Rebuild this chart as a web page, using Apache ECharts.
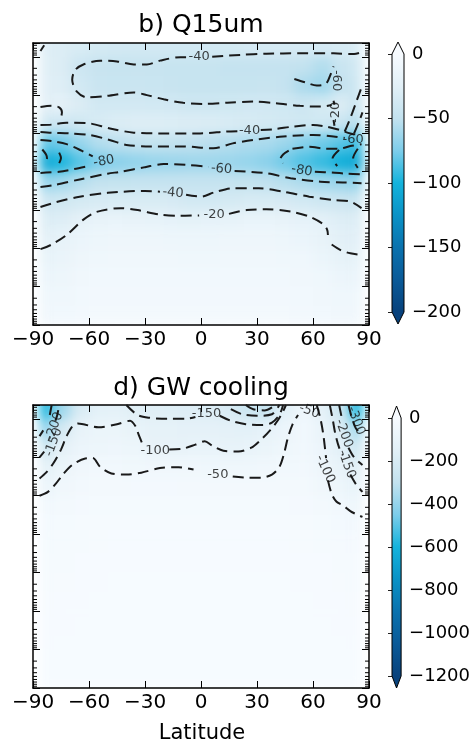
<!DOCTYPE html>
<html>
<head>
<meta charset="utf-8">
<script src="https://cdn.jsdelivr.net/npm/echarts@6/dist/echarts.min.js"></script>
<style>
  html, body { margin: 0; padding: 0; background: #fff; }
  #wrap { position: relative; width: 473px; height: 744px; }
  .clip { position: absolute; overflow: hidden; }
  .heat { position: absolute; left: -20px; top: -20px; filter: blur(6px); }
  #chart { position: absolute; left: 0; top: 0; width: 473px; height: 744px; }
</style>
</head>
<body>
<div id="wrap">
  <div class="clip" style="left:33px;top:43px;width:336px;height:282px">
    <div class="heat" id="heatTop" style="width:376px;height:322px"></div>
  </div>
  <div class="clip" style="left:33px;top:405px;width:336px;height:283px">
    <div class="heat" id="heatBottom" style="width:376px;height:323px"></div>
  </div>
  <div id="chart"></div>
</div>
<script>
// latitude centres of the model columns
const latitudes = [-85, -75, -65, -55, -45, -35, -25, -15, -5, 5, 15, 25, 35, 45, 55, 65, 75, 85];
// vertical levels, in decades of pressure above the lowest level (top row first)
const levels = [7.25, 6.75, 6.25, 5.75, 5.25, 4.75, 4.25, 3.75, 3.25, 2.75, 2.25, 1.75, 1.25, 0.75, 0.25];
const levelTop = 7.36;

// b) Q15um cooling rate, one row per level
const q15Values = [
  [-28, -30, -33, -36, -37, -38, -38, -38, -38, -37, -36, -35, -35, -35, -35, -35, -34, -32],
  [-27, -30, -42, -46, -47, -46, -46, -47, -47, -47, -48, -48, -48, -48, -50, -56, -45, -38],
  [-26, -28, -38, -44, -45, -44, -45, -46, -47, -47, -47, -47, -46, -48, -58, -62, -48, -40],
  [-24, -22, -30, -38, -38, -37, -38, -39, -41, -41, -40, -39, -39, -40, -42, -36, -30, -45],
  [-40, -42, -40, -34, -30, -28, -28, -29, -30, -31, -32, -34, -36, -38, -40, -40, -45, -55],
  [-82, -78, -66, -56, -52, -50, -49, -50, -51, -53, -55, -57, -59, -64, -72, -78, -84, -92],
  [-108, -98, -84, -75, -70, -67, -65, -64, -63, -63, -64, -66, -70, -78, -86, -92, -102, -110],
  [-66, -62, -55, -50, -49, -48, -48, -48, -48, -48, -48, -49, -51, -54, -58, -62, -65, -68],
  [-42, -40, -36, -34, -33, -33, -33, -35, -38, -38, -36, -34, -34, -35, -38, -41, -43, -46],
  [-30, -28, -22, -18, -17, -18, -19, -20, -21, -20, -19, -17, -17, -18, -20, -23, -28, -30],
  [-24, -19, -14, -12, -11, -11, -11, -12, -12, -12, -11, -11, -11, -12, -14, -18, -24, -26],
  [-19, -15, -11, -9, -8, -8, -8, -8, -9, -9, -8, -8, -8, -9, -10, -14, -19, -21],
  [-14, -12, -8, -7, -7, -7, -7, -7, -7, -7, -7, -7, -7, -7, -8, -10, -13, -15],
  [-10, -9, -7, -6, -6, -6, -6, -6, -6, -6, -6, -6, -6, -6, -7, -8, -10, -10],
  [-8, -7, -6, -5, -5, -5, -5, -5, -5, -5, -5, -5, -5, -5, -6, -7, -8, -8]
];

// d) GW cooling rate, one row per level
const gwValues = [
  [-600, -380, -200, -140, -135, -160, -160, -165, -170, -175, -200, -260, -280, -140, -60, -130, -260, -600],
  [-420, -220, -110, -85, -88, -110, -125, -125, -130, -130, -135, -140, -120, -80, -45, -95, -180, -380],
  [-260, -130, -80, -68, -64, -70, -105, -105, -102, -98, -105, -102, -85, -60, -40, -80, -140, -260],
  [-150, -85, -52, -45, -46, -47, -49, -51, -51, -54, -55, -55, -53, -42, -38, -70, -110, -170],
  [-90, -48, -35, -30, -29, -28, -28, -28, -29, -30, -31, -31, -30, -29, -32, -48, -72, -120],
  [-45, -32, -24, -20, -19, -18, -18, -18, -18, -19, -20, -20, -20, -19, -21, -30, -45, -70],
  [-28, -20, -16, -14, -13, -13, -13, -13, -13, -13, -13, -13, -13, -13, -14, -18, -26, -38],
  [-20, -15, -11, -10, -9, -9, -9, -9, -9, -9, -9, -9, -9, -9, -10, -12, -16, -22],
  [-15, -12, -9, -8, -7, -7, -7, -7, -7, -7, -7, -7, -7, -7, -8, -9, -12, -16],
  [-12, -10, -8, -7, -6, -6, -6, -6, -6, -6, -6, -6, -6, -6, -7, -8, -10, -12],
  [-10, -8, -7, -6, -6, -5, -5, -5, -5, -5, -5, -5, -5, -6, -6, -7, -8, -10],
  [-8, -7, -6, -5, -5, -5, -5, -5, -5, -5, -5, -5, -5, -5, -5, -6, -7, -8],
  [-7, -6, -5, -5, -4, -4, -4, -4, -4, -4, -4, -4, -4, -4, -5, -5, -6, -7],
  [-6, -5, -5, -4, -4, -4, -4, -4, -4, -4, -4, -4, -4, -4, -4, -5, -5, -6],
  [-5, -5, -4, -4, -4, -4, -4, -4, -4, -4, -4, -4, -4, -4, -4, -4, -5, -5]
];

// contour lines: [latitude, level]
const q15Contours = [
  [[-86, 7.15], [-84, 7.3]],
  [[-8, 6.99], [-11, 6.99], [-22, 6.9], [-29, 6.8], [-36, 6.8], [-45, 6.88], [-54, 6.9], [-63, 6.8], [-67.5, 6.65], [-69, 6.4], [-66.5, 6.09], [-61, 5.94], [-50.5, 5.98], [-36, 6.07], [-29, 6.0], [-20, 5.89], [-9.5, 5.8], [1, 5.77], [14, 5.8], [28, 5.83], [40, 5.79], [53, 5.72], [64, 5.7], [70, 5.74]],
  [[6, 7.0], [21, 7.05], [35, 7.08], [53, 7.09], [71, 7.09], [82, 7.07], [86, 7.12]],
  [[50, 6.42], [56, 6.33], [62, 6.25], [67, 6.3], [69.5, 6.55], [71, 6.75]],
  [[71, 5.85], [71.5, 5.75]],
  [[71, 5.35], [71.5, 5.2]],
  [[77, 5.05], [80, 5.4], [83, 5.8], [86, 6.2]],
  [[82, 5.0], [85, 5.35], [86.5, 5.55]],
  [[-86, 5.69], [-80, 5.72], [-76, 5.68], [-74.5, 5.55], [-75, 5.4]],
  [[-86, 5.22], [-80, 5.23], [-72, 5.28], [-61, 5.27], [-48.75, 5.13], [-36, 5.02], [-18, 5.0], [-0.5, 5.0], [13.75, 5.05], [20, 5.06]],
  [[32, 5.09], [39, 5.11], [49.5, 5.18], [60, 5.22], [67, 5.18], [74.5, 5.09], [80, 5.0], [86, 4.95]],
  [[-86, 5.04], [-80, 5.02], [-70, 5.0], [-59.5, 4.96], [-49, 4.83], [-40, 4.7], [-27, 4.66], [-9.5, 4.66], [6.6, 4.61], [17, 4.74], [28, 4.83], [44, 4.92], [60, 4.96], [71, 4.92], [77, 4.88]],
  [[-86, 4.83], [-80, 4.8], [-72, 4.72], [-64, 4.55], [-58, 4.4]],
  [[-86, 3.97], [-76, 4.0], [-68, 4.07], [-62, 4.13]],
  [[-85, 4.58], [-83, 4.45], [-82.5, 4.35], [-84, 4.22]],
  [[-76, 4.5], [-75, 4.36], [-76, 4.22]],
  [[47, 4.55], [44, 4.45], [42.5, 4.33], [44, 4.22]],
  [[49, 4.6], [58, 4.65], [67, 4.6], [74, 4.6], [80, 4.67], [86, 4.72]],
  [[61, 4.0], [70, 3.98], [78, 3.95], [86, 3.93]],
  [[74, 4.57], [70.5, 4.35], [73, 4.15]],
  [[84, 4.6], [81.5, 4.35], [84, 4.1]],
  [[-86, 3.6], [-79, 3.65], [-65, 3.8], [-50, 3.95], [-43, 4.0], [-30, 4.12], [-20, 4.2], [-8, 4.18], [4, 4.13]],
  [[18, 4.02], [35, 3.96], [48, 3.83], [64, 3.74], [76, 3.72], [86, 3.7]],
  [[-86, 3.08], [-78, 3.2], [-65, 3.35], [-50, 3.45], [-30, 3.5], [-22, 3.48]],
  [[-8, 3.4], [0, 3.35], [7, 3.46], [17, 3.57], [31, 3.57], [44, 3.48], [58, 3.35], [71, 3.26], [80, 3.22], [86, 3.05]],
  [[-86, 1.98], [-80, 2.1], [-72, 2.35], [-63, 2.75], [-56, 2.95], [-43, 3.05], [-34, 3.0], [-22, 2.88], [-11, 2.85], [-1, 2.86]],
  [[15, 2.9], [24.5, 3.0], [35, 3.02], [48, 2.96], [58, 2.83], [65, 2.65], [67.5, 2.5], [68, 2.35]],
  [[70, 2.1], [75, 1.95], [80, 1.87], [86, 1.83]]
];
// contour labels: [latitude, level, text, rotation]
const q15Labels = [
  [-1, 7.0, '-40', 0], [72.5, 6.38, '-60', -90], [72.3, 5.55, '-20', 90],
  [26, 5.07, '-40', 0], [81.5, 4.84, '-60', 0], [-52, 4.27, '-80', 10],
  [54, 4.03, '-80', -10], [11, 4.07, '-60', -5], [-15, 3.45, '-40', -5], [7, 2.87, '-20', 0]
];

const gwContours = [
  [[-86.5, 5.0], [-82, 5.1], [-78, 5.3], [-74, 5.55], [-69, 5.8], [-62, 5.97], [-58, 5.98], [-54, 5.75], [-48, 5.58], [-40, 5.55], [-32, 5.6], [-22, 5.72], [-12, 5.74], [-4, 5.68]],
  [[17, 5.5], [25, 5.47], [32, 5.47], [38, 5.55], [42, 5.75], [44.5, 6.1], [46.5, 6.5], [49, 6.85], [52, 7.1]],
  [[-86.5, 5.45], [-83, 5.6], [-79, 5.85], [-75, 6.2], [-72, 6.55], [-69, 6.8], [-66, 6.88], [-55, 6.78], [-45, 6.86], [-38, 6.95], [-35, 6.8], [-33.5, 6.6], [-31, 6.3]],
  [[-17, 6.2], [-10, 6.22], [-3, 6.33], [2, 6.42], [6, 6.3], [12, 6.17], [20, 6.15], [27, 6.25], [32, 6.45], [37, 6.7], [41, 6.95], [44, 7.2], [45.5, 7.36]],
  [[-40, 7.36], [-34, 7.1], [-28, 7.03], [-18, 7.0], [-8, 7.0], [-3, 7.05]],
  [[10, 7.08], [16, 6.95], [24, 6.86], [33, 6.84], [38, 6.9], [42, 7.1], [44, 7.36]],
  [[16, 7.25], [22, 7.12], [30, 7.08], [38, 7.12], [42, 7.36]],
  [[24, 7.36], [28, 7.25], [34, 7.22], [40, 7.36]],
  [[62, 7.36], [64, 7.0], [65.5, 6.6], [66.5, 6.2], [67, 5.98]],
  [[68, 5.4], [70, 5.05], [72.5, 4.85], [76, 4.75], [80, 4.6], [84, 4.5], [86.5, 4.45]],
  [[69, 7.36], [70.5, 7.0], [72, 6.6], [74, 6.25], [76, 6.05]],
  [[80, 5.55], [83, 5.3], [86.5, 5.1]],
  [[74, 7.36], [75.5, 7.0]],
  [[79, 6.25], [82, 6.0], [86.5, 5.8]],
  [[79, 7.36], [81, 7.0], [83, 6.75], [86.5, 6.6]],
  [[-86.5, 6.0], [-84, 6.15]],
  [[-78, 6.95], [-77, 7.1], [-76, 7.36]],
  [[-86.5, 6.55], [-84.5, 6.7]],
  [[-81, 7.1], [-80, 7.36]]
];
const gwLabels = [
  [3, 7.14, '-150', 0], [58, 7.2, '-50', -20], [-24.5, 6.17, '-100', 0], [9, 5.56, '-50', 0],
  [-79, 6.39, '-150', 70], [-78.5, 6.8, '-200', 70], [66.4, 5.69, '-100', -65],
  [78, 5.82, '-150', -70], [76.5, 6.62, '-200', -70], [83, 6.95, '-300', -70]
];

// colour map from the lowest value (dark) to zero (white)
const cmap = ['#08427c', '#0a5a98', '#0a72ae', '#0a92c6', '#14b3dc', '#7dcdea', '#c3e2ef', '#e2f0f7', '#f7fbff'];
const q15Range = [-200, 0];
const gwRange = [-1200, 0];

const minorLevels = [];
for (let n = 0; n < 8; n++) {
  for (let k = 2; k <= 9; k++) {
    const v = n + 1 - Math.log10(k);
    if (v < levelTop) minorLevels.push([-90, v]);
  }
}

function toCells(values) {
  const out = [];
  values.forEach((row, i) => row.forEach((v, j) => out.push([latitudes[j], levels[i], v])));
  return out;
}

function cellItem(params, api) {
  const lat = api.value(0), lev = api.value(1);
  // the outer rows run past the frame so the blur does not fade at the edges
  const top = lev + 0.25 > levelTop ? levelTop + 0.6 : lev + 0.25;
  const bottom = lev - 0.25 < 0 ? -0.6 : lev - 0.25;
  const a = api.coord([Math.max(lat - 5, -86.5), top]);
  const b = api.coord([Math.min(lat + 5, 86.5), bottom]);
  return {
    type: 'rect',
    shape: { x: a[0], y: a[1], width: b[0] - a[0] + 0.6, height: b[1] - a[1] + 0.6 },
    style: { fill: api.visual('color') }
  };
}

function minorTickItem(params, api) {
  const l = api.coord([-90, api.value(1)]);
  const r = api.coord([90, api.value(1)]);
  return {
    type: 'group',
    children: [
      { type: 'line', shape: { x1: l[0], y1: l[1], x2: l[0] + 4, y2: l[1] }, style: { stroke: '#000', lineWidth: 1 } },
      { type: 'line', shape: { x1: r[0], y1: r[1], x2: r[0] - 4, y2: r[1] }, style: { stroke: '#000', lineWidth: 1 } }
    ]
  };
}

function colorbarItem(params, api) {
  const x0 = params.coordSys.x, w = params.coordSys.width;
  const yb = api.coord([0.5, api.value(1)])[1];
  const yt = api.coord([0.5, 0])[1];
  const tip = 12;
  const stops = cmap.slice().reverse().map((c, i) => ({ offset: i / (cmap.length - 1), color: c }));
  return {
    type: 'group',
    children: [
      { type: 'rect', shape: { x: x0, y: yt, width: w, height: yb - yt },
        style: { fill: new echarts.graphic.LinearGradient(0, 0, 0, 1, stops) } },
      { type: 'polygon', shape: { points: [[x0, yt], [x0 + w / 2, yt - tip], [x0 + w, yt]] },
        style: { fill: cmap[cmap.length - 1] } },
      { type: 'polygon', shape: { points: [[x0, yb], [x0 + w / 2, yb + tip], [x0 + w, yb]] },
        style: { fill: cmap[0] } },
      { type: 'polygon',
        shape: { points: [[x0, yt], [x0 + w / 2, yt - tip], [x0 + w, yt], [x0 + w, yb], [x0 + w / 2, yb + tip], [x0, yb]] },
        style: { fill: 'none', stroke: '#000', lineWidth: 1 } }
    ]
  };
}

const font = 'DejaVu Sans';
const minus = v => String(v).replace('-', '\u2212');

// smooth shaded field, drawn in its own layer and softened with a css blur
function heatOption(values, range, height) {
  return {
    animation: false,
    grid: { left: 20, top: 20, width: 336, height: height },
    xAxis: { type: 'value', min: -90, max: 90, show: false },
    yAxis: { type: 'value', min: 0, max: levelTop, show: false },
    visualMap: { show: false, type: 'continuous', dimension: 2, min: range[0], max: range[1], inRange: { color: cmap } },
    series: [{ type: 'custom', data: toCells(values), renderItem: cellItem, encode: { x: 0, y: 1 }, clip: false, silent: true }]
  };
}
echarts.init(document.getElementById('heatTop')).setOption(heatOption(q15Values, q15Range, 282));
echarts.init(document.getElementById('heatBottom')).setOption(heatOption(gwValues, gwRange, 283));

function latAxis(grid, pos, labels) {
  return {
    type: 'value', gridIndex: grid, position: pos, min: -90, max: 90, interval: 30,
    axisLine: { show: true, onZero: false, lineStyle: { color: '#000', width: 1.5 } },
    axisTick: { show: true, inside: true, length: 7, lineStyle: { color: '#000', width: 1 } },
    axisLabel: { show: labels, fontSize: 20, fontFamily: font, color: '#000', margin: 5, formatter: minus },
    splitLine: { show: false }
  };
}
function levAxis(grid, pos) {
  return {
    type: 'value', gridIndex: grid, position: pos, min: 0, max: levelTop, interval: 1,
    axisLine: { show: true, onZero: false, lineStyle: { color: '#000', width: 1.5 } },
    axisTick: { show: true, inside: true, length: 7, lineStyle: { color: '#000', width: 1 } },
    axisLabel: { show: false },
    splitLine: { show: false }
  };
}
function barAxis(grid, range, step) {
  return {
    type: 'value', gridIndex: grid, position: 'right', min: range[0], max: range[1], interval: step,
    axisLine: { show: false },
    axisTick: { show: true, inside: true, length: 4, lineStyle: { color: '#222', width: 1 } },
    axisLabel: { fontSize: 18, fontFamily: font, color: '#000', margin: 8, formatter: minus },
    splitLine: { show: false }
  };
}

function contourSeries(lines, xi, yi) {
  return lines.map(pts => ({
    type: 'line', xAxisIndex: xi, yAxisIndex: yi, data: pts, symbol: 'none', smooth: 0.3,
    lineStyle: { color: '#1a1a1a', width: 2, type: [11, 6] }, silent: true, z: 3
  }));
}
function labelSeries(labels, xi, yi) {
  return {
    type: 'scatter', xAxisIndex: xi, yAxisIndex: yi, symbolSize: 1, silent: true, z: 4,
    itemStyle: { color: 'rgba(0,0,0,0)' },
    data: labels.map(l => ({
      value: [l[0], l[1]], name: l[2],
      label: { show: true, position: 'inside', formatter: '{b}', rotate: l[3],
        fontSize: 13, fontFamily: font, color: '#111' }
    }))
  };
}

const chart = echarts.init(document.getElementById('chart'));
const option = {
  animation: false,
  backgroundColor: 'transparent',
  graphic: [
    { type: 'text', x: 201, y: 25, style: { text: 'b) Q15um', font: '25px "DejaVu Sans"', fill: '#000', textAlign: 'center', textVerticalAlign: 'middle' } },
    { type: 'text', x: 201, y: 388, style: { text: 'd) GW cooling', font: '25px "DejaVu Sans"', fill: '#000', textAlign: 'center', textVerticalAlign: 'middle' } },
    { type: 'text', x: 202, y: 734, style: { text: 'Latitude', font: '21px "DejaVu Sans"', fill: '#000', textAlign: 'center', textVerticalAlign: 'middle' } }
  ],
  grid: [
    { left: 33, top: 43, width: 336, height: 282 },
    { left: 33, top: 405, width: 336, height: 283 },
    { left: 392, top: 54, width: 12, height: 258 },
    { left: 392, top: 418, width: 12, height: 258 }
  ],
  xAxis: [
    latAxis(0, 'bottom', true), latAxis(0, 'top', false),
    latAxis(1, 'bottom', true), latAxis(1, 'top', false),
    { type: 'value', gridIndex: 2, min: 0, max: 1, show: false },
    { type: 'value', gridIndex: 3, min: 0, max: 1, show: false }
  ],
  yAxis: [
    levAxis(0, 'left'), levAxis(0, 'right'),
    levAxis(1, 'left'), levAxis(1, 'right'),
    barAxis(2, q15Range, 50), barAxis(3, gwRange, 200)
  ],
  series: [
    { type: 'custom', xAxisIndex: 0, yAxisIndex: 0, data: minorLevels, renderItem: minorTickItem, encode: { x: 0, y: 1 }, clip: false, silent: true, z: 5 },
    { type: 'custom', xAxisIndex: 2, yAxisIndex: 2, data: minorLevels, renderItem: minorTickItem, encode: { x: 0, y: 1 }, clip: false, silent: true, z: 5 },
    { type: 'custom', xAxisIndex: 4, yAxisIndex: 4, data: [[0.5, q15Range[0]]], renderItem: colorbarItem, encode: { x: 0, y: 1 }, clip: false, silent: true },
    { type: 'custom', xAxisIndex: 5, yAxisIndex: 5, data: [[0.5, gwRange[0]]], renderItem: colorbarItem, encode: { x: 0, y: 1 }, clip: false, silent: true },
    labelSeries(q15Labels, 0, 0),
    labelSeries(gwLabels, 2, 2)
  ].concat(contourSeries(q15Contours, 0, 0), contourSeries(gwContours, 2, 2))
};
chart.setOption(option);
</script>
</body>
</html>
